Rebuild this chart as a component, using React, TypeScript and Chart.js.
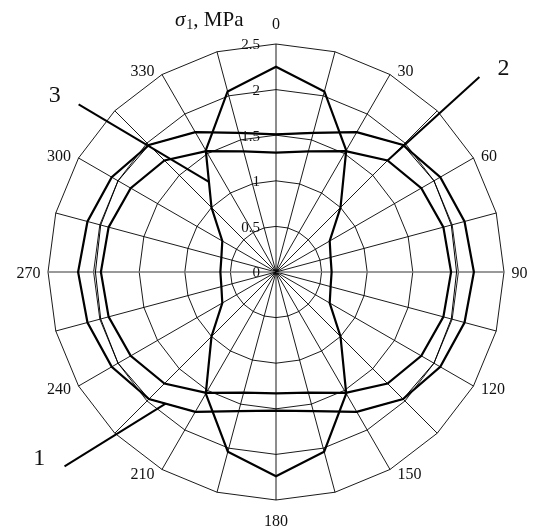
import React, { useEffect, useRef } from "react";
import { Chart, registerables } from "chart.js";

Chart.register(...registerables);

// Angles (degrees) — 24 spokes every 15°
const angleCategories = [
  "0", "15", "30", "45", "60", "75", "90", "105", "120", "135", "150", "165",
  "180", "195", "210", "225", "240", "255", "270", "285", "300", "315", "330", "345",
];
// Labels shown on the outer ring (every 30°)
const shownAngleLabels = ["0", "30", "60", "90", "120", "150", "180", "210", "240", "270", "300", "330"];

// Radial tick labels (σ1, MPa)
const radialTicks = [0, 0.5, 1, 1.5, 2, 2.5];

// Curve 1 (outer thick oval)
const curve1 = [
  1.51, 1.58, 1.77, 1.97, 2.08, 2.14, 2.17, 2.14, 2.08, 1.97, 1.77, 1.58,
  1.52, 1.58, 1.77, 1.97, 2.08, 2.14, 2.17, 2.14, 2.08, 1.97, 1.77, 1.58,
];
// Curve 2 (inner thick oval)
const curve2 = [
  1.31, 1.37, 1.53, 1.73, 1.84, 1.90, 1.92, 1.90, 1.84, 1.73, 1.53, 1.37,
  1.33, 1.37, 1.53, 1.73, 1.84, 1.90, 1.92, 1.90, 1.84, 1.73, 1.53, 1.37,
];
// Thin curve (unlabelled)
const curveThin = [
  1.51, 1.58, 1.77, 1.97, 2.0, 1.99, 1.98, 1.99, 2.0, 1.97, 1.77, 1.58,
  1.52, 1.58, 1.77, 1.97, 2.0, 1.99, 1.98, 1.99, 2.0, 1.97, 1.77, 1.58,
];
// Curve 3 (vertical "peanut")
const curve3 = [
  2.25, 2.05, 1.54, 1.0, 0.68, 0.62, 0.61, 0.62, 0.68, 1.0, 1.54, 2.04,
  2.24, 2.04, 1.54, 1.0, 0.68, 0.62, 0.61, 0.62, 0.68, 1.0, 1.54, 2.05,
];

// Callouts: label, label position (fractional spoke index, value), leader start (index, value)
const calloutNames = ["1", "2", "3"];
const calloutLabelAt = [[15.46, 3.3], [3.21, 3.35], [20.58, 3.11]];
const calloutStartAt = [[15.16, 3.15], [3.08, 3.09], [20.69, 2.84]];
// Leader end: segment of the curve between two spoke indices and fraction along it
const calloutEndSeg = [[14, 15, 0.64], [3, 3, 0], [22, 21, 0.55]];

const SERIF = "'Liberation Serif', 'Times New Roman', serif";

const overlayPlugin = {
  id: "overlay",
  afterDraw(chart: any) {
    const ctx: CanvasRenderingContext2D = chart.ctx;
    const scale = chart.scales.r;
    const R = scale.drawingArea;
    const cx = scale.xCenter;
    const cy = scale.yCenter;
    const pos = (idx: number, val: number) =>
      scale.getPointPosition(idx, scale.getDistanceFromCenterForValue(val));

    ctx.save();
    ctx.fillStyle = "#111";
    // radial tick labels
    ctx.font = `15px ${SERIF}`;
    ctx.textAlign = "right";
    ctx.textBaseline = "middle";
    radialTicks.forEach((v) => {
      const d = scale.getDistanceFromCenterForValue(v);
      ctx.fillText(String(v), cx - 16, cy - d + 1.5);
    });

    // angle labels
    ctx.font = `16px ${SERIF}`;
    angleCategories.forEach((lab, i) => {
      if (!shownAngleLabels.includes(lab)) return;
      const p = scale.getPointPosition(i, R);
      const a = scale.getIndexAngle(i); // 0 at top, clockwise
      const s = Math.sin(a);
      const c = Math.cos(a);
      if (Math.abs(s) < 1e-3) {
        ctx.textAlign = "center";
        ctx.fillText(lab, p.x, p.y - c * 20.5 + 1);
      } else {
        ctx.textAlign = s > 0 ? "left" : "right";
        ctx.fillText(lab, p.x + Math.sign(s) * 7.5, p.y - c * 5 + 1.5);
      }
    });

    // title  σ1, MPa
    ctx.textAlign = "left";
    ctx.textBaseline = "alphabetic";
    let x = cx - 101;
    const by = scale.top - 18;
    ctx.font = `italic 21px ${SERIF}`;
    ctx.fillText("σ", x, by);
    x += ctx.measureText("σ").width + 1;
    ctx.font = `14px ${SERIF}`;
    ctx.fillText("1", x, by + 3);
    x += ctx.measureText("1").width;
    ctx.font = `21px ${SERIF}`;
    ctx.fillText(", MPa", x, by);

    // callouts
    const curvesByName: Record<string, number[]> = { "1": curve1, "2": curve2, "3": curve3 };
    ctx.strokeStyle = "#000";
    ctx.lineWidth = 2;
    calloutNames.forEach((name, k) => {
      const data = curvesByName[name];
      const [i0, i1, t] = calloutEndSeg[k];
      const a = pos(i0, data[i0]);
      const b = pos(i1, data[i1]);
      const end = { x: a.x + (b.x - a.x) * t, y: a.y + (b.y - a.y) * t };
      const st = pos(calloutStartAt[k][0], calloutStartAt[k][1]);
      ctx.beginPath();
      ctx.moveTo(st.x, st.y);
      ctx.lineTo(end.x, end.y);
      ctx.stroke();
      const lp = pos(calloutLabelAt[k][0], calloutLabelAt[k][1]);
      ctx.font = `24px ${SERIF}`;
      ctx.textAlign = "center";
      ctx.textBaseline = "middle";
      ctx.fillText(name, lp.x, lp.y + 1);
    });
    ctx.restore();
  },
};

export default function App() {
  const ref = useRef<HTMLCanvasElement | null>(null);
  useEffect(() => {
    if (!ref.current) return;
    const line = (data: number[], w: number, order: number) => ({
      data,
      borderColor: "#000",
      borderWidth: w,
      fill: false,
      pointRadius: 0,
      pointHoverRadius: 0,
      tension: 0,
      order,
    });
    const chart = new Chart(ref.current, {
      type: "radar",
      data: {
        labels: angleCategories,
        datasets: [
          line(curveThin, 1, 4),
          line(curve2, 2.2, 3),
          line(curve1, 2.2, 2),
          line(curve3, 2.2, 1),
        ],
      },
      options: {
        responsive: false,
        animation: false,
        devicePixelRatio: 1,
        layout: { padding: { left: 48, right: 29, top: 44, bottom: 31 } },
        plugins: { legend: { display: false }, tooltip: { enabled: false } },
        elements: { line: { borderJoinStyle: "miter" } },
        scales: {
          r: {
            min: 0,
            max: 2.5,
            ticks: { display: false, stepSize: 0.5 },
            pointLabels: { display: false },
            grid: { circular: false, color: "#000", lineWidth: 0.9 },
            angleLines: {
              color: (c: any) => (c.index === 6 || c.index === 18 ? "#777" : "#000"),
              lineWidth: (c: any) => (c.index === 6 || c.index === 18 ? 1.6 : 0.9),
            },
          },
        },
      } as any,
      plugins: [overlayPlugin],
    });
    return () => chart.destroy();
  }, []);
  return (
    <div style={{ position: "absolute", left: 0, top: 0, width: 533, height: 531, background: "#fff" }}>
      <canvas ref={ref} width={533} height={531} style={{ width: 533, height: 531 }} />
    </div>
  );
}
